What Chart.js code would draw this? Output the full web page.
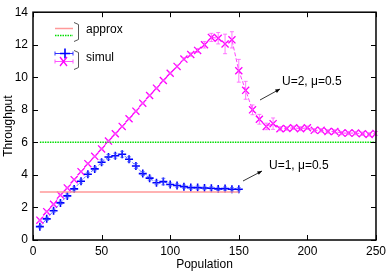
<!DOCTYPE html>
<html>
<head>
<meta charset="utf-8">
<script src="https://cdn.jsdelivr.net/npm/chart.js@4.4.1/dist/chart.umd.min.js"></script>
<style>
  html, body { margin: 0; padding: 0; background: #fff; }
  #wrap { width: 390px; height: 275px; }
</style>
</head>
<body>
<div id="wrap"><canvas id="c" width="390" height="275"></canvas></div>
<script>
// ===== DATA =====
var popU1 = [5, 10, 15, 20, 25, 30, 35, 40, 45, 50, 55, 60, 65, 70, 75, 80, 85, 90, 95, 100,
    105, 110, 115, 120, 125, 130, 135, 140, 145, 150];
var simU1 = [0.82, 1.3, 1.8, 2.28, 2.71, 3.14, 3.61, 4.04, 4.37, 4.78, 5.1, 5.18, 5.27, 4.96, 4.55,
    4.08, 3.8, 3.52, 3.59, 3.41, 3.35, 3.28, 3.22, 3.22, 3.2, 3.18, 3.14, 3.16, 3.12, 3.12];
var errU1 = [0.08, 0.1, 0.1, 0.1, 0.12, 0.12, 0.12, 0.12, 0.12, 0.15, 0.15, 0.15, 0.18, 0.15, 0.15,
    0.12, 0.12, 0.12, 0.2, 0.1, 0.1, 0.1, 0.1, 0.1, 0.1, 0.1, 0.1, 0.1, 0.1, 0.1];

var popU2 = [5, 10, 15, 20, 25, 30, 35, 40, 45, 50, 55, 60, 65, 70, 75, 80, 85, 90, 95, 100,
    105, 110, 115, 120, 125, 130, 135, 140, 145, 150, 155, 160, 165, 170, 175, 180, 185, 190, 195, 200,
    205, 210, 215, 220, 225, 230, 235, 240, 245, 250];
var simU2 = [1.22, 1.74, 2.2, 2.76, 3.2, 3.71, 4.2, 4.69, 5.14, 5.6, 6.08, 6.53, 6.98, 7.45, 7.92,
    8.41, 8.88, 9.33, 9.8, 10.25, 10.67, 11.12, 11.4, 11.65, 12.0, 12.45, 12.4, 12.05, 12.3, 10.4,
    9.2, 8.0, 7.42, 6.98, 7.15, 6.84, 6.85, 6.9, 6.84, 6.9, 6.74, 6.74, 6.67, 6.67, 6.57,
    6.57, 6.57, 6.53, 6.49, 6.55];
var errU2 = [0.05, 0.05, 0.05, 0.05, 0.05, 0.05, 0.05, 0.05, 0.05, 0.05, 0.05, 0.05, 0.05, 0.05, 0.05,
    0.05, 0.05, 0.05, 0.05, 0.05, 0.08, 0.08, 0.1, 0.12, 0.2, 0.25, 0.35, 0.6, 0.5, 0.7,
    0.55, 0.3, 0.3, 0.2, 0.35, 0.12, 0.1, 0.1, 0.12, 0.1, 0.1, 0.1, 0.1, 0.1, 0.1,
    0.1, 0.1, 0.1, 0.1, 0.12];

var approxX1 = [5, 150];
var approxU1 = [2.95, 2.95];
var approxX2 = [5, 250];
var approxU2 = [6.0, 6.0];

var xTicks = [0, 50, 100, 150, 200, 250];
var yTicks = [0, 2, 4, 6, 8, 10, 12, 14];

var FONT = '"Liberation Sans", Arial, sans-serif';

var toPoints = function (xs, ys) {
    return xs.map(function (x, i) { return { x: x, y: ys[i] }; });
};

// ===== PLUGIN: frame, inner ticks, error bars, key, labels =====
var decor = {
    id: 'decor',
    afterDatasetsDraw: function (chart) {
        var ctx = chart.ctx;
        var a = chart.chartArea;
        var xs = chart.scales.x;
        var ys = chart.scales.y;

        // error bars
        chart.data.datasets.forEach(function (ds) {
            if (!ds.err) {
                return;
            }
            ctx.save();
            ctx.strokeStyle = ds.errColor;
            ctx.lineWidth = 1;
            ds.data.forEach(function (p, i) {
                var px = xs.getPixelForValue(p.x);
                var top = ys.getPixelForValue(p.y + ds.err[i]);
                var bot = ys.getPixelForValue(p.y - ds.err[i]);
                ctx.beginPath();
                ctx.moveTo(px, top);
                ctx.lineTo(px, bot);
                ctx.moveTo(px - 2, top);
                ctx.lineTo(px + 2, top);
                ctx.moveTo(px - 2, bot);
                ctx.lineTo(px + 2, bot);
                ctx.stroke();
            });
            ctx.restore();
        });

        // frame and inward ticks
        ctx.save();
        ctx.strokeStyle = '#000';
        ctx.lineWidth = 1.5;
        ctx.strokeRect(a.left, a.top, a.right - a.left, a.bottom - a.top);
        ctx.lineWidth = 1;
        ctx.beginPath();
        xTicks.forEach(function (v) {
            var px = Math.round(xs.getPixelForValue(v)) + 0.5;
            ctx.moveTo(px, a.bottom);
            ctx.lineTo(px, a.bottom - 5);
            ctx.moveTo(px, a.top);
            ctx.lineTo(px, a.top + 5);
        });
        yTicks.forEach(function (v) {
            var py = Math.round(ys.getPixelForValue(v)) + 0.5;
            ctx.moveTo(a.left, py);
            ctx.lineTo(a.left + 5, py);
            ctx.moveTo(a.right, py);
            ctx.lineTo(a.right - 5, py);
        });
        ctx.stroke();
        ctx.restore();

        // axis titles
        ctx.save();
        ctx.fillStyle = '#000';
        ctx.font = '12px ' + FONT;
        ctx.textAlign = 'center';
        ctx.textBaseline = 'middle';
        ctx.fillText('Population', (a.left + a.right) / 2, 265);
        ctx.translate(9, (a.top + a.bottom) / 2);
        ctx.rotate(-Math.PI / 2);
        ctx.fillText('Throughput', 0, 0);
        ctx.restore();

        // key
        ctx.save();
        ctx.lineWidth = 1.5;
        ctx.strokeStyle = '#ff9999';
        ctx.beginPath();
        ctx.moveTo(55, 28.5);
        ctx.lineTo(73, 28.5);
        ctx.stroke();
        ctx.strokeStyle = '#00dd00';
        ctx.setLineDash([1.5, 1]);
        ctx.beginPath();
        ctx.moveTo(55, 35.5);
        ctx.lineTo(73, 35.5);
        ctx.stroke();
        ctx.setLineDash([]);

        // simul key: horizontal error bar with marker
        ctx.lineWidth = 1;
        ctx.strokeStyle = '#3333ff';
        ctx.beginPath();
        ctx.moveTo(55, 53.5); ctx.lineTo(73, 53.5);
        ctx.moveTo(55, 51.5); ctx.lineTo(55, 55.5);
        ctx.moveTo(73, 51.5); ctx.lineTo(73, 55.5);
        ctx.stroke();
        ctx.lineWidth = 1.6;
        ctx.strokeStyle = '#0000ff';
        ctx.beginPath();
        ctx.moveTo(60, 53.5); ctx.lineTo(70, 53.5);
        ctx.moveTo(65, 48.5); ctx.lineTo(65, 58.5);
        ctx.stroke();
        ctx.lineWidth = 1;
        ctx.strokeStyle = '#ff55ff';
        ctx.beginPath();
        ctx.moveTo(55, 61.5); ctx.lineTo(73, 61.5);
        ctx.moveTo(55, 59.5); ctx.lineTo(55, 63.5);
        ctx.moveTo(73, 59.5); ctx.lineTo(73, 63.5);
        ctx.stroke();
        ctx.lineWidth = 1.3;
        ctx.strokeStyle = '#ff00ff';
        ctx.beginPath();
        ctx.moveTo(60, 57); ctx.lineTo(67, 66);
        ctx.moveTo(67, 57); ctx.lineTo(60, 66);
        ctx.stroke();

        // brackets
        ctx.lineWidth = 1;
        ctx.strokeStyle = '#555';
        [[22.5, 41.5], [50.5, 69.5]].forEach(function (b) {
            ctx.beginPath();
            ctx.moveTo(74, b[0]);
            ctx.lineTo(78.5, b[0] + 2);
            ctx.lineTo(78.5, b[1] - 2);
            ctx.lineTo(74, b[1]);
            ctx.stroke();
        });

        ctx.fillStyle = '#000';
        ctx.font = '12px ' + FONT;
        ctx.textBaseline = 'middle';
        ctx.textAlign = 'left';
        ctx.fillText('approx', 86, 30);
        ctx.fillText('simul', 86, 58);

        // curve labels with arrows
        ctx.fillText('U=2, \u03bc=0.5', 282, 82);
        ctx.fillText('U=1, \u03bc=0.5', 269, 166);
        ctx.strokeStyle = '#000';
        ctx.lineWidth = 0.8;
        var arrow = function (x0, y0, x1, y1) {
            var ang = Math.atan2(y1 - y0, x1 - x0);
            ctx.beginPath();
            ctx.moveTo(x0, y0);
            ctx.lineTo(x1, y1);
            ctx.stroke();
            ctx.beginPath();
            ctx.moveTo(x1, y1);
            ctx.lineTo(x1 - 5 * Math.cos(ang - 0.4), y1 - 5 * Math.sin(ang - 0.4));
            ctx.lineTo(x1 - 5 * Math.cos(ang + 0.4), y1 - 5 * Math.sin(ang + 0.4));
            ctx.closePath();
            ctx.fillStyle = '#000';
            ctx.fill();
        };
        arrow(260, 100, 280, 89);
        arrow(243, 181, 262, 171);
        ctx.restore();
    }
};

new Chart(document.getElementById('c'), {
    type: 'line',
    data: {
        datasets: [{
            label: 'approx U=1',
            data: toPoints(approxX1, approxU1),
            borderColor: '#ff9999',
            borderWidth: 1.5,
            pointRadius: 0
        }, {
            label: 'approx U=2',
            data: toPoints(approxX2, approxU2),
            borderColor: '#00dd00',
            borderWidth: 1.5,
            borderDash: [1.5, 1],
            pointRadius: 0
        }, {
            label: 'simul U=1',
            data: toPoints(popU1, simU1),
            err: errU1,
            errColor: 'rgba(60, 80, 255, 0.7)',
            borderColor: 'rgba(60, 80, 255, 0.8)',
            borderWidth: 1,
            borderDash: [3, 2],
            pointStyle: 'cross',
            pointRadius: 4,
            pointBorderWidth: 1.6,
            pointBorderColor: '#0000ff'
        }, {
            label: 'simul U=2',
            data: toPoints(popU2, simU2),
            err: errU2,
            errColor: 'rgba(255, 90, 255, 0.8)',
            borderColor: '#ff44ff',
            borderWidth: 1,
            borderDash: [4, 2],
            pointStyle: 'crossRot',
            pointRadius: 5,
            pointBorderWidth: 1.3,
            pointBorderColor: '#ff00ff'
        }]
    },
    options: {
        responsive: false,
        animation: false,
        layout: { padding: { top: 11, right: 14, left: 0, bottom: 0 } },
        plugins: {
            legend: { display: false },
            tooltip: { enabled: false }
        },
        scales: {
            x: {
                type: 'linear',
                min: 0,
                max: 250,
                afterFit: function (s) { s.height = 35; },
                afterBuildTicks: function (s) {
                    s.ticks = xTicks.map(function (v) { return { value: v }; });
                },
                grid: { display: false, drawTicks: false },
                border: { display: false },
                ticks: { color: '#000', font: { family: FONT, size: 12 }, padding: 4, maxRotation: 0 }
            },
            y: {
                type: 'linear',
                min: 0,
                max: 14,
                afterFit: function (s) { s.width = 33; },
                afterBuildTicks: function (s) {
                    s.ticks = yTicks.map(function (v) { return { value: v }; });
                },
                grid: { display: false, drawTicks: false },
                border: { display: false },
                ticks: { color: '#000', font: { family: FONT, size: 12 }, padding: 5 }
            }
        }
    },
    plugins: [decor]
});
</script>
</body>
</html>
